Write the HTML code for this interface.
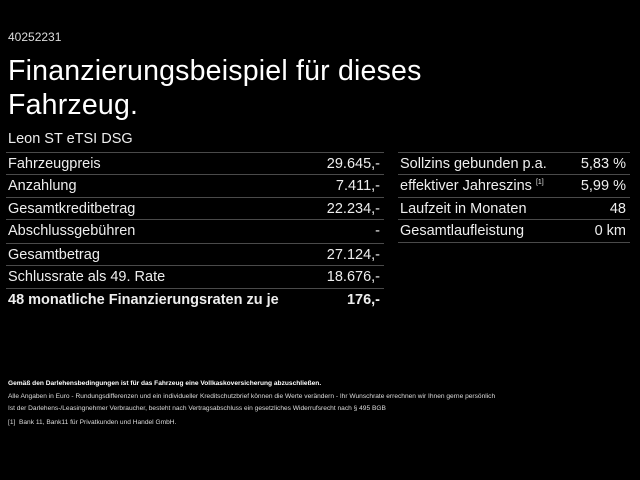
<!DOCTYPE html>
<html><head><meta charset="utf-8"><style>
*{margin:0;padding:0;box-sizing:border-box}
body{width:640px;height:480px;background:#000;color:#fff;font-family:"Liberation Sans",sans-serif;position:relative;overflow:hidden}
.a{position:absolute;white-space:nowrap}
.row{position:absolute;height:23px;border-top:1px solid #4a4a4a;font-size:14.5px;line-height:22px;color:#eee}
.row span.r{position:absolute;right:4px;top:0}
.row span.l{position:absolute;left:2px;top:0}
.f{font-size:6.6px;color:#ddd}
sup{font-size:7px;line-height:0;vertical-align:6px}
</style></head><body>
<div class="a" style="left:8px;top:30px;font-size:12px;color:#ddd">40252231</div>
<div class="a" style="left:8px;top:54px;font-size:28.5px;line-height:34px;color:#fff;letter-spacing:0.2px">Finanzierungsbeispiel für dieses<br>Fahrzeug.</div>
<div class="a" style="left:8px;top:131px;font-size:14.5px;color:#eee">Leon ST eTSI DSG</div>

<div class="row" style="left:6px;width:378px;top:152px"><span class="l">Fahrzeugpreis</span><span class="r">29.645,-</span></div>
<div class="row" style="left:6px;width:378px;top:174px"><span class="l">Anzahlung</span><span class="r">7.411,-</span></div>
<div class="row" style="left:6px;width:378px;top:197px"><span class="l">Gesamtkreditbetrag</span><span class="r">22.234,-</span></div>
<div class="row" style="left:6px;width:378px;top:219px"><span class="l">Abschlussgebühren</span><span class="r">-</span></div>
<div class="row" style="left:6px;width:378px;top:243px"><span class="l">Gesamtbetrag</span><span class="r">27.124,-</span></div>
<div class="row" style="left:6px;width:378px;top:265px"><span class="l">Schlussrate als 49. Rate</span><span class="r">18.676,-</span></div>
<div class="row" style="left:6px;width:378px;top:288px;font-weight:bold"><span class="l">48 monatliche Finanzierungsraten zu je</span><span class="r">176,-</span></div>

<div class="row" style="left:398px;width:232px;top:152px"><span class="l">Sollzins gebunden p.a.</span><span class="r">5,83 %</span></div>
<div class="row" style="left:398px;width:232px;top:174px"><span class="l">effektiver Jahreszins <sup>[1]</sup></span><span class="r">5,99 %</span></div>
<div class="row" style="left:398px;width:232px;top:197px"><span class="l">Laufzeit in Monaten</span><span class="r">48</span></div>
<div class="row" style="left:398px;width:232px;top:219px"><span class="l">Gesamtlaufleistung</span><span class="r">0 km</span></div>
<div class="a" style="left:398px;top:242px;width:232px;border-top:1px solid #4a4a4a"></div>

<div class="a f" style="left:8px;top:380px;font-weight:bold;color:#fff">Gemäß den Darlehensbedingungen ist für das Fahrzeug eine Vollkaskoversicherung abzuschließen.</div>
<div class="a f" style="left:8px;top:393px">Alle Angaben in Euro - Rundungsdifferenzen und ein individueller Kreditschutzbrief können die Werte verändern - Ihr Wunschrate errechnen wir Ihnen gerne persönlich</div>
<div class="a f" style="left:8px;top:405px">Ist der Darlehens-/Leasingnehmer Verbraucher, besteht nach Vertragsabschluss ein gesetzliches Widerrufsrecht nach § 495 BGB</div>
<div class="a f" style="left:8px;top:419px">[1]&nbsp; Bank 11, Bank11 für Privatkunden und Handel GmbH.</div>
</body></html>
